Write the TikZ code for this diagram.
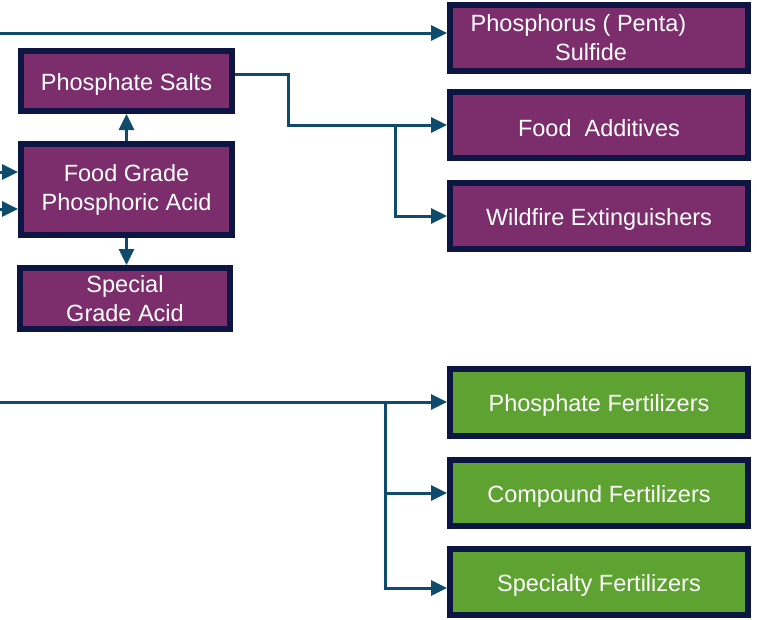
\documentclass[tikz,border=0pt]{standalone}
\usepackage{fontspec}
\setmainfont{Liberation Sans}
\usetikzlibrary{arrows.meta}
\definecolor{boxline}{HTML}{0D1543}
\definecolor{boxpurple}{HTML}{7B2D6C}
\definecolor{boxgreen}{HTML}{5EA331}
\definecolor{flowline}{HTML}{0F4C6B}
\begin{document}
\begin{tikzpicture}[x=1pt,y=-1pt,
  box/.style={draw=boxline,line width=6pt,text=white,inner sep=0pt,align=center,
    font=\fontsize{23.5}{29}\selectfont,execute at begin node={\rule{0pt}{23pt}}},
  leftbox/.style={box,fill=boxpurple,minimum width=211pt},
  rbox/.style={box,minimum width=298pt,minimum height=66pt},
  flow/.style={flowline,line width=3pt,-{Triangle[length=16pt,width=15pt]}}]
\useasboundingbox (0,0) rectangle (757,619);
% food grade branch
\node[leftbox,minimum height=60pt] (salts) at (126.5,81) {Phosphate Salts};
\node[leftbox,minimum height=91pt] (acid) at (126.5,189.5) {Food Grade\\Phosphoric Acid};
\node[leftbox,minimum width=210pt,minimum height=61pt] (special) at (125,298.5) {Special\\Grade Acid};
\node[rbox,fill=boxpurple] (sulfide) at (599,38)
  {Phosphorus ( Penta)\hspace*{41pt}\\Sulfide\hspace*{16pt}};
\node[rbox,fill=boxpurple] (additives) at (599,125) {Food\ \ Additives};
\node[rbox,fill=boxpurple] (wildfire) at (599,216) {Wildfire Extinguishers};
% fertilizer branch
\node[rbox,fill=boxgreen,minimum height=67pt] (phosfert) at (599,402.5) {Phosphate Fertilizers};
\node[rbox,fill=boxgreen] (compound) at (599,493) {Compound Fertilizers};
\node[rbox,fill=boxgreen] (specialty) at (599,582) {Specialty Fertilizers};
% connectors
\coordinate (topin) at (0,33);
\coordinate (in1) at (0,172);
\coordinate (in2) at (0,209);
\coordinate (botin) at (0,402);
\coordinate (foodfork) at (395,125);
\coordinate (fertfork) at (385,402);
\draw[flow] (topin) -- (topin -| sulfide.west);
\draw[flow] (in1) -- (in1 -| acid.west);
\draw[flow] (in2) -- (in2 -| acid.west);
\draw[flow] (acid.north) -- (salts.south);
\draw[flow] (acid.south) -- (acid.south |- special.north);
\draw[flow] ([yshift=7pt]salts.east) -- ++(53,0) |- (additives.west);
\draw[flow] (foodfork) |- (wildfire.west);
\draw[flow] (botin) -- (botin -| phosfert.west);
\draw[flow] (fertfork) |- (compound.west);
\draw[flow] (fertfork) |- ([yshift=-6pt]specialty.west);
\end{tikzpicture}
\end{document}
